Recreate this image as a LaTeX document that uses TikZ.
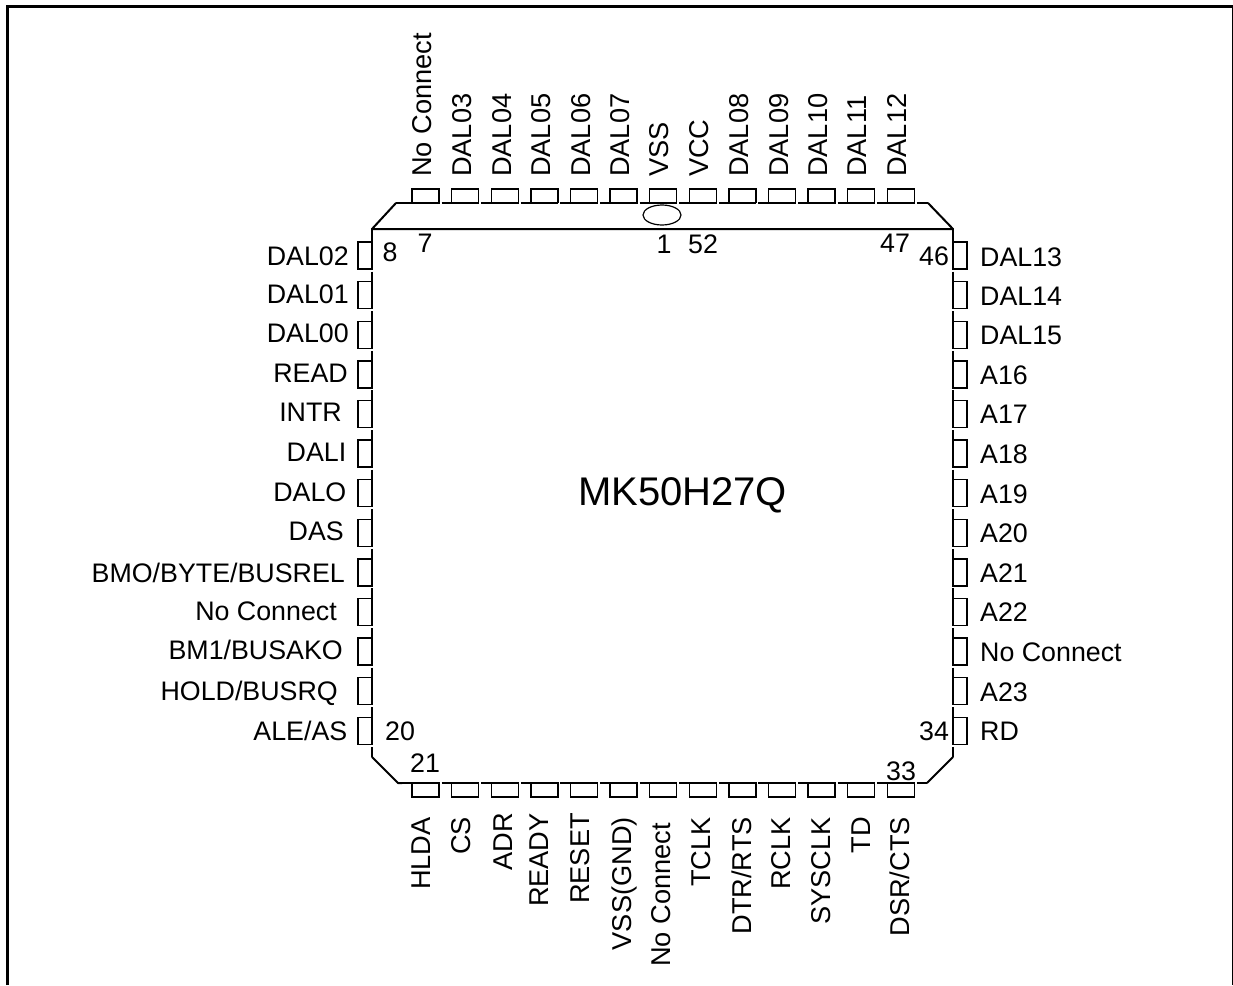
\documentclass[tikz,border=0pt]{standalone}
\usepackage{fontspec}
\setmainfont{Liberation Sans}

\begin{document}
\begin{tikzpicture}[x=1pt,y=-1pt,
  pinbox/.style={line width=1.4},
  body/.style={line width=2,line cap=round,line join=round},
  bodygap/.style={line width=2,dash pattern=on 37.6 off 2},
  topgap/.style={line width=1.2,dash pattern=on 37.6 off 2},
  leftlabel/.style={anchor=base east,inner sep=0,font=\fontsize{26.8}{32}\selectfont},
  rightlabel/.style={anchor=base west,inner sep=0,font=\fontsize{26.8}{32}\selectfont},
  toplabel/.style={rotate=90,anchor=base west,inner sep=0,font=\fontsize{27.2}{32}\selectfont},
  bottomlabel/.style={rotate=90,anchor=base east,inner sep=0,font=\fontsize{27.2}{32}\selectfont},
  pinnum/.style={anchor=center,inner sep=0,font=\fontsize{26.8}{32}\selectfont}]
\useasboundingbox (0,0) rectangle (1233,985);
\draw[line width=3] (7.5,985) -- (7.5,6.5) -- (1233,6.5) -- (1233,985);
% package outline
\draw[body] (396,203) -- (372,229) -- (953,229) -- (928,203);
\draw[line width=1.2] (396,203) -- (402,203);
\draw[topgap] (402,203) -- (928,203);
\draw[body] (372,229) -- (372,232);
\draw[bodygap] (372,232) -- (372,757);
\draw[body] (372,757) -- (398,783) -- (402,783);
\draw[bodygap] (402,783) -- (927,783);
\draw[body] (927,783) -- (953,757);
\draw[bodygap] (953,232) -- (953,757);
\draw[body] (953,229) -- (953,232);
\draw[line width=1.2] (662,215) ellipse (19 and 10);
\node[pinnum,font=\fontsize{40}{48}\selectfont] (chipname) at (682.5,495) {MK50H27Q};
% top pins
\draw[pinbox] (412,203) -- (412,189) -- (439,189) -- (439,203);
\draw[pinbox] (451.6,203) -- (451.6,189) -- (478.6,189) -- (478.6,203);
\draw[pinbox] (491.2,203) -- (491.2,189) -- (518.2,189) -- (518.2,203);
\draw[pinbox] (530.8,203) -- (530.8,189) -- (557.8,189) -- (557.8,203);
\draw[pinbox] (570.4,203) -- (570.4,189) -- (597.4,189) -- (597.4,203);
\draw[pinbox] (610,203) -- (610,189) -- (637,189) -- (637,203);
\draw[pinbox] (649.6,203) -- (649.6,189) -- (676.6,189) -- (676.6,203);
\draw[pinbox] (689.2,203) -- (689.2,189) -- (716.2,189) -- (716.2,203);
\draw[pinbox] (728.8,203) -- (728.8,189) -- (755.8,189) -- (755.8,203);
\draw[pinbox] (768.4,203) -- (768.4,189) -- (795.4,189) -- (795.4,203);
\draw[pinbox] (808,203) -- (808,189) -- (835,189) -- (835,203);
\draw[pinbox] (847.6,203) -- (847.6,189) -- (874.6,189) -- (874.6,203);
\draw[pinbox] (887.2,203) -- (887.2,189) -- (914.2,189) -- (914.2,203);
% bottom pins
\draw[pinbox] (412,783) rectangle (439,797);
\draw[pinbox] (451.6,783) rectangle (478.6,797);
\draw[pinbox] (491.2,783) rectangle (518.2,797);
\draw[pinbox] (530.8,783) rectangle (557.8,797);
\draw[pinbox] (570.4,783) rectangle (597.4,797);
\draw[pinbox] (610,783) rectangle (637,797);
\draw[pinbox] (649.6,783) rectangle (676.6,797);
\draw[pinbox] (689.2,783) rectangle (716.2,797);
\draw[pinbox] (728.8,783) rectangle (755.8,797);
\draw[pinbox] (768.4,783) rectangle (795.4,797);
\draw[pinbox] (808,783) rectangle (835,797);
\draw[pinbox] (847.6,783) rectangle (874.6,797);
\draw[pinbox] (887.2,783) rectangle (914.2,797);
% left pins
\draw[pinbox] (372,242) rectangle (358,269);
\draw[pinbox] (372,281.6) rectangle (358,308.6);
\draw[pinbox] (372,321.2) rectangle (358,348.2);
\draw[pinbox] (372,360.8) rectangle (358,387.8);
\draw[pinbox] (372,400.4) rectangle (358,427.4);
\draw[pinbox] (372,440) rectangle (358,467);
\draw[pinbox] (372,479.6) rectangle (358,506.6);
\draw[pinbox] (372,519.2) rectangle (358,546.2);
\draw[pinbox] (372,558.8) rectangle (358,585.8);
\draw[pinbox] (372,598.4) rectangle (358,625.4);
\draw[pinbox] (372,638) rectangle (358,665);
\draw[pinbox] (372,677.6) rectangle (358,704.6);
\draw[pinbox] (372,717.2) rectangle (358,744.2);
% right pins
\draw[pinbox] (953,242) rectangle (967,269);
\draw[pinbox] (953,281.6) rectangle (967,308.6);
\draw[pinbox] (953,321.2) rectangle (967,348.2);
\draw[pinbox] (953,360.8) rectangle (967,387.8);
\draw[pinbox] (953,400.4) rectangle (967,427.4);
\draw[pinbox] (953,440) rectangle (967,467);
\draw[pinbox] (953,479.6) rectangle (967,506.6);
\draw[pinbox] (953,519.2) rectangle (967,546.2);
\draw[pinbox] (953,558.8) rectangle (967,585.8);
\draw[pinbox] (953,598.4) rectangle (967,625.4);
\draw[pinbox] (953,638) rectangle (967,665);
\draw[pinbox] (953,677.6) rectangle (967,704.6);
\draw[pinbox] (953,717.2) rectangle (967,744.2);
% top labels
\node[toplabel] (top7) at (431.5,177) {No Connect};
\node[toplabel] (top6) at (471.5,177) {DAL03};
\node[toplabel] (top5) at (511.5,177) {DAL04};
\node[toplabel] (top4) at (550.5,177) {DAL05};
\node[toplabel] (top3) at (590.5,177) {DAL06};
\node[toplabel] (top2) at (629.5,177) {DAL07};
\node[toplabel] (top1) at (668.5,177) {VSS};
\node[toplabel] (top52) at (708.5,177) {VCC};
\node[toplabel] (top51) at (748.5,177) {DAL08};
\node[toplabel] (top50) at (788.5,177) {DAL09};
\node[toplabel] (top49) at (827.5,177) {DAL10};
\node[toplabel] (top48) at (866.5,177) {DAL11};
\node[toplabel] (top47) at (906.5,177) {DAL12};
% bottom labels
\node[bottomlabel] (bot21) at (430.5,817) {HLDA};
\node[bottomlabel] (bot22) at (470.5,817) {CS};
\node[bottomlabel] (bot23) at (512.5,813) {ADR};
\node[bottomlabel] (bot24) at (548.5,813) {READY};
\node[bottomlabel] (bot25) at (589.5,813) {RESET};
\node[bottomlabel] (bot26) at (631.5,817) {VSS(GND)};
\node[bottomlabel] (bot27) at (670.5,823) {No Connect};
\node[bottomlabel] (bot28) at (710.5,817) {TCLK};
\node[bottomlabel] (bot29) at (751.5,817) {DTR/RTS};
\node[bottomlabel] (bot30) at (790.5,817) {RCLK};
\node[bottomlabel] (bot31) at (830.5,817) {SYSCLK};
\node[bottomlabel] (bot32) at (870.5,817) {TD};
\node[bottomlabel] (bot33) at (909.5,817) {DSR/CTS};
% left labels
\node[leftlabel] (left8) at (349,265.5) {DAL02};
\node[leftlabel] (left9) at (349,303.5) {DAL01};
\node[leftlabel] (left10) at (349,342.5) {DAL00};
\node[leftlabel] (left11) at (348,382.5) {READ};
\node[leftlabel] (left12) at (342,421.5) {INTR};
\node[leftlabel] (left13) at (346.5,461.5) {DALI};
\node[leftlabel] (left14) at (346.5,501.5) {DALO};
\node[leftlabel] (left15) at (344,540.5) {DAS};
\node[leftlabel] (left16) at (345,582.5) {BMO/BYTE/BUSREL};
\node[leftlabel] (left17) at (337,620.5) {No Connect};
\node[leftlabel] (left18) at (343,659.5) {BM1/BUSAKO};
\node[leftlabel] (left19) at (338,700.5) {HOLD/BUSRQ};
\node[leftlabel] (left20) at (347.5,740.5) {ALE/AS};
% right labels
\node[rightlabel] (right46) at (980,266.5) {DAL13};
\node[rightlabel] (right45) at (980,305.5) {DAL14};
\node[rightlabel] (right44) at (980,344.5) {DAL15};
\node[rightlabel] (right43) at (980,384.5) {A16};
\node[rightlabel] (right42) at (980,423.5) {A17};
\node[rightlabel] (right41) at (980,463.5) {A18};
\node[rightlabel] (right40) at (980,503.5) {A19};
\node[rightlabel] (right39) at (980,542.5) {A20};
\node[rightlabel] (right38) at (980,582.5) {A21};
\node[rightlabel] (right37) at (980,621.5) {A22};
\node[rightlabel] (right36) at (980,661.5) {No Connect};
\node[rightlabel] (right35) at (980,701.5) {A23};
\node[rightlabel] (right34) at (980,740.5) {RD};
% pin numbers
\node[pinnum] (num8) at (390,252) {8};
\node[pinnum] (num7) at (425,243) {7};
\node[pinnum] (num1) at (664,244) {1};
\node[pinnum] (num52) at (703,244) {52};
\node[pinnum] (num47) at (895,243) {47};
\node[pinnum] (num46) at (934,256) {46};
\node[pinnum] (num20) at (400,731) {20};
\node[pinnum] (num21) at (425,763) {21};
\node[pinnum] (num34) at (934,731) {34};
\node[pinnum] (num33) at (901,771) {33};
\end{tikzpicture}
\end{document}
